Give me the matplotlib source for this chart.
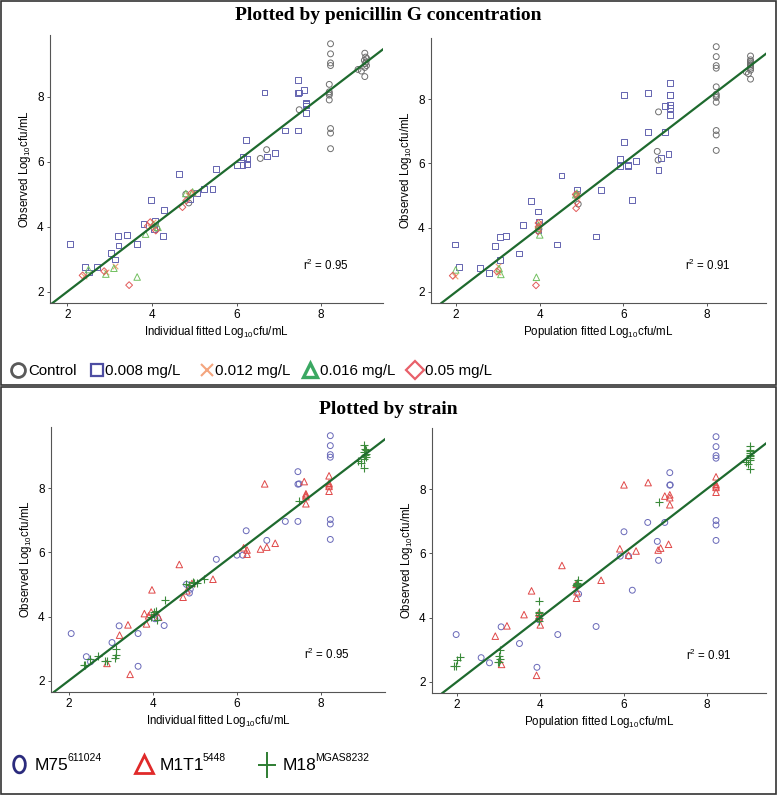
import matplotlib
matplotlib.use("Agg")
import matplotlib.pyplot as plt
from matplotlib.patches import Rectangle
from matplotlib.path import Path
import numpy as np

plt.rcParams['font.family'] = ['Liberation Sans', 'DejaVu Sans']
plt.rcParams['mathtext.fontset'] = 'custom'
plt.rcParams['mathtext.rm'] = 'Liberation Sans'
plt.rcParams['mathtext.it'] = 'Liberation Sans:italic'

W, H = 777, 795

# observations per strain: individual fit, population fit, observed, concentration
m75_ind = [2.06, 2.42, 2.52, 3.03, 3.20, 3.65, 3.65, 4.27, 4.05, 4.11, 4.80, 4.87, 4.89, 5.51,
           6.00, 6.14, 6.22, 6.71, 7.15, 7.45, 7.45, 7.45, 7.48,
           8.22, 8.22, 8.22, 8.22, 8.22, 8.22, 8.22]
m75_pop = [1.98, 2.58, 2.78, 3.50, 3.06, 4.42, 3.92, 5.34, 3.97, 3.98, 4.88, 4.92, 6.21, 6.84,
           5.92, 6.12, 6.01, 6.81, 6.58, 6.99, 7.11, 7.11, 7.12,
           8.22, 8.22, 8.22, 8.22, 8.22, 8.22, 8.22]
m75_obs = [3.47, 2.75, 2.59, 3.19, 3.71, 3.47, 2.45, 3.72, 3.93, 3.95, 5.00, 4.73, 4.85, 5.78,
           5.91, 5.91, 6.67, 6.37, 6.96, 6.96, 8.51, 8.12, 8.13,
           9.63, 9.32, 9.04, 8.96, 7.02, 6.88, 6.40]
m75_conc = ['0.008', '0.008', '0.008', '0.008', '0.008', '0.008', '0.016', '0.008', '0.008', 'ctrl',
            'ctrl', 'ctrl', '0.008', '0.008', '0.008', '0.008', '0.008', 'ctrl', '0.008', '0.008',
            '0.008', '0.008', '0.008', 'ctrl', 'ctrl', 'ctrl', 'ctrl', 'ctrl', 'ctrl', 'ctrl']

m1t1_ind = [2.91, 3.46, 3.21, 3.41, 3.80, 3.85, 3.98, 3.90, 3.96, 4.14, 4.63, 4.72, 4.81, 4.93,
            5.43, 6.16, 6.24, 6.24, 6.56, 6.71, 6.91, 6.66, 7.60, 7.64, 7.64, 7.64, 7.64,
            8.19, 8.19, 8.19, 8.19, 8.19]
m1t1_pop = [3.07, 3.91, 2.92, 3.20, 3.61, 4.00, 3.79, 3.97, 3.97, 3.96, 4.52, 4.87, 4.88, 4.86,
            5.46, 5.91, 6.30, 6.12, 6.83, 6.89, 7.08, 6.01, 6.59, 6.99, 7.11, 7.11, 7.11,
            8.22, 8.22, 8.22, 8.22, 8.22]
m1t1_obs = [2.54, 2.20, 3.42, 3.74, 4.09, 3.77, 4.83, 4.02, 4.14, 3.98, 5.62, 4.60, 4.80, 5.03,
            5.16, 6.14, 6.07, 5.94, 6.10, 6.16, 6.28, 8.13, 8.20, 7.78, 7.82, 7.73, 7.51,
            8.38, 8.15, 8.10, 8.05, 7.90]
m1t1_conc = ['0.016', '0.05', '0.008', '0.008', '0.008', '0.016', '0.008', '0.05', '0.05', '0.016',
             '0.008', '0.05', '0.05', '0.05', '0.008', '0.008', '0.008', '0.008', 'ctrl', '0.008',
             '0.008', '0.008', '0.008', '0.008', '0.008', '0.008', '0.008',
             'ctrl', 'ctrl', 'ctrl', 'ctrl', 'ctrl']

m18_ind = [2.36, 2.39, 2.50, 2.70, 2.87, 2.92, 3.10, 3.13, 3.12, 4.28, 4.02, 4.07, 4.09, 4.03,
           3.95, 4.85, 4.98, 4.80, 4.96, 5.06, 5.22, 7.48,
           9.03, 9.05, 9.08, 9.02, 9.06, 9.04, 9.07, 9.03, 9.03, 8.87, 8.95]
m18_pop = [1.92, 1.97, 1.99, 2.07, 2.98, 3.00, 3.03, 3.00, 3.04, 3.96, 3.98, 3.98, 3.96, 3.97,
           3.96, 4.88, 4.88, 4.86, 4.89, 4.88, 4.90, 6.84,
           9.04, 9.04, 9.04, 9.04, 9.04, 9.04, 9.04, 9.04, 9.04, 8.94, 8.99]
m18_obs = [2.50, 2.48, 2.68, 2.76, 2.63, 2.61, 2.72, 2.80, 2.99, 4.50, 4.15, 4.17, 3.88, 4.07,
           4.00, 4.97, 5.05, 5.02, 5.07, 5.04, 5.17, 7.60,
           9.34, 9.22, 9.17, 9.12, 9.07, 9.02, 8.96, 8.90, 8.62, 8.84, 8.79]
m18_conc = ['0.05', '0.012', '0.016', '0.008', '0.05', '0.012', '0.016', '0.012', '0.008', '0.008',
            '0.012', '0.008', '0.05', '0.016', '0.012', '0.012', '0.012', '0.016', '0.016', '0.008',
            '0.008', 'ctrl', 'ctrl', 'ctrl', 'ctrl', 'ctrl', 'ctrl', 'ctrl', 'ctrl', 'ctrl', 'ctrl',
            'ctrl', 'ctrl']

conc_keys = ['ctrl', '0.008', '0.012', '0.016', '0.05']
conc_labels = ['Control', '0.008 mg/L', '0.012 mg/L', '0.016 mg/L', '0.05 mg/L']
strain_names = ['M75', 'M1T1', 'M18']
strain_sups = ['611024', '5448', 'MGAS8232']
r2_ind, r2_pop = 0.95, 0.91

ind = np.array(m75_ind + m1t1_ind + m18_ind)
pop = np.array(m75_pop + m1t1_pop + m18_pop)
obs = np.array(m75_obs + m1t1_obs + m18_obs)
conc = np.array(m75_conc + m1t1_conc + m18_conc)
strain = np.array(['M75'] * len(m75_ind) + ['M1T1'] * len(m1t1_ind) + ['M18'] * len(m18_ind))

conc_style = {
    'ctrl': dict(marker='o', color='#6e6e6e', s=18, open=True),
    '0.008': dict(marker='s', color='#6464b0', s=18, open=True),
    '0.012': dict(marker='x', color='#f2a36e', s=16, open=False),
    '0.016': dict(marker='^', color='#72c060', s=22, open=True),
    '0.05': dict(marker='D', color='#e25a5a', s=12, open=True),
}
strain_style = {
    'M75': dict(marker='o', color='#6868b8', s=18, open=True),
    'M1T1': dict(marker='^', color='#e04848', s=22, open=True),
    'M18': dict(marker='+', color='#3a8a3a', s=26, open=False),
}


def px_rect(l, t, r, b):
    return [l / W, 1 - b / H, (r - l) / W, (b - t) / H]


def draw_group(ax, x, y, st):
    if st['open']:
        ax.scatter(x, y, marker=st['marker'], s=st['s'], facecolors='none',
                   edgecolors=st['color'], linewidths=0.7, zorder=3)
    else:
        ax.scatter(x, y, marker=st['marker'], s=st['s'], color=st['color'],
                   linewidths=0.8, zorder=3)


def style_axes(ax, xlim, xlabel, r2, r2x):
    ax.set_xlim(*xlim)
    ax.set_ylim(1.65, 9.9)
    ax.axline((2, 2), (8, 8), color='#1e6a2e', lw=1.6, zorder=4)
    for s in ['top', 'right']:
        ax.spines[s].set_visible(False)
    for s in ['left', 'bottom']:
        ax.spines[s].set_color('#555555')
        ax.spines[s].set_linewidth(0.8)
    ax.set_xticks([2, 4, 6, 8])
    ax.set_yticks([2, 4, 6, 8])
    ax.tick_params(length=2.5, width=0.7, color='#555555', labelsize=8.5, pad=2)
    ax.set_xlabel(xlabel, fontsize=8.3, labelpad=2)
    ax.set_ylabel('Observed Log$_{10}$cfu/mL', fontsize=8.3, labelpad=3)
    ax.text(r2x, 2.82, 'r$^2$ = %.2f' % r2, fontsize=8.3, ha='center', va='center')


fig = plt.figure(figsize=(W / 100, H / 100), dpi=100)

# frame/legend layer in pixel coordinates
bg = fig.add_axes([0, 0, 1, 1])
bg.set_xlim(0, W)
bg.set_ylim(H, 0)
bg.set_axis_off()
bg.add_patch(Rectangle((0.5, 0.5), W - 1.5, 384.5, fill=False, ec='#333333', lw=1.2))
bg.add_patch(Rectangle((0.5, 386.5), W - 1.5, 407, fill=False, ec='#333333', lw=1.2))

bg.text(388, 16, 'Plotted by penicillin G concentration', family='Liberation Serif',
        fontweight='bold', fontsize=14, ha='center', va='center')
bg.text(388, 409, 'Plotted by strain', family='Liberation Serif',
        fontweight='bold', fontsize=14, ha='center', va='center')

panels = [
    (px_rect(50, 35, 383, 303), ind, (1.59, 9.46), 'Individual fitted Log$_{10}$cfu/mL', r2_ind, 8.1, 'conc'),
    (px_rect(431, 38, 766, 303), pop, (1.40, 9.41), 'Population fitted Log$_{10}$cfu/mL', r2_pop, 8.02, 'conc'),
    (px_rect(51, 427, 385, 692), ind, (1.58, 9.52), 'Individual fitted Log$_{10}$cfu/mL', r2_ind, 8.14, 'strain'),
    (px_rect(432, 428, 766, 693), pop, (1.40, 9.42), 'Population fitted Log$_{10}$cfu/mL', r2_pop, 8.06, 'strain'),
]

for rect, xs, xlim, xlabel, r2, r2x, by in panels:
    ax = fig.add_axes(rect)
    ax.patch.set_alpha(0)
    if by == 'conc':
        for k in conc_keys:
            m = conc == k
            draw_group(ax, xs[m], obs[m], conc_style[k])
    else:
        for k in strain_names:
            m = strain == k
            draw_group(ax, xs[m], obs[m], strain_style[k])
    style_axes(ax, xlim, xlabel, r2, r2x)

# concentration legend
leg_mx = [18, 97, 207, 310, 415]
leg_tx = [28, 105, 215, 320, 425]
leg_ms = [10, 9, 9, 10, 9]
leg_lw = [2.0, 1.6, 1.5, 2.4, 1.6]
leg_col = ['#5a5a5a', '#4d4da2', '#f4a57e', '#3aa862', '#e8606a']
for k, lab, mx, tx, ms, lw, c in zip(conc_keys, conc_labels, leg_mx, leg_tx, leg_ms, leg_lw, leg_col):
    st = conc_style[k]
    if st['open']:
        bg.plot([mx], [370], marker=st['marker'], ms=ms, mfc='none', mec=c, mew=lw, ls='none')
    else:
        bg.plot([mx], [370], marker=st['marker'], ms=ms, color=c, mew=lw, ls='none')
    bg.text(tx, 371, lab, fontsize=10.8, ha='left', va='center')

# strain legend
t = np.linspace(0, 2 * np.pi, 60)
ellipse = Path(np.column_stack([0.7 * np.cos(t), np.sin(t)]))
tall_plus = Path([(-0.7, 0), (0.7, 0), (0, -1), (0, 1)],
                 [Path.MOVETO, Path.LINETO, Path.MOVETO, Path.LINETO])
s_mx = [19, 144, 267]
s_tx = [35, 160, 283]
s_mk = [ellipse, '^', tall_plus]
s_ms = [12, 13, 19]
s_col = ['#2b2b7d', '#e02a2a', '#2e7d32']
s_lw = [2.0, 2.0, 1.4]
renderer = fig.canvas.get_renderer()
for name, sup, mx, tx, mk, ms, c, lw in zip(strain_names, strain_sups, s_mx, s_tx, s_mk, s_ms, s_col, s_lw):
    if mk is tall_plus:
        bg.plot([mx], [765], marker=mk, ms=ms, color=c, mew=lw, ls='none')
    else:
        bg.plot([mx], [764], marker=mk, ms=ms, mfc='none', mec=c, mew=lw, ls='none')
    txt = bg.text(tx, 765, name, fontsize=12.5, ha='left', va='center')
    bb = txt.get_window_extent(renderer)
    bg.text(bb.x1 - 1.5, 758, sup, fontsize=7.5, ha='left', va='center')

fig.savefig('out.png', dpi=100)
